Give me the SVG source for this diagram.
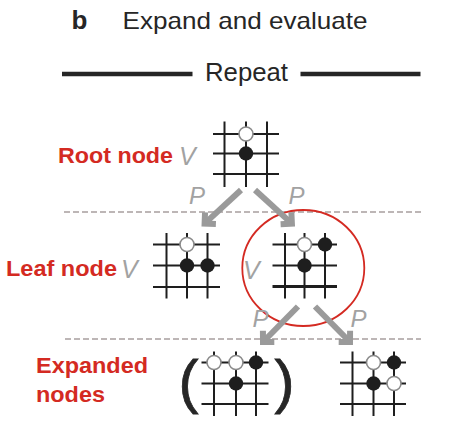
<svg xmlns="http://www.w3.org/2000/svg" width="459" height="433" viewBox="0 0 459 433">
<style>
.title{font-family:"Liberation Sans",Arial,sans-serif;fill:#262626}
.red{font-family:"Liberation Sans",Arial,sans-serif;font-weight:bold;font-size:22px;fill:#d42a22}
.gl{font-family:"Liberation Sans",Arial,sans-serif;font-style:italic;font-size:24px;fill:#a2a2a2}
.gv{font-size:25px}
.grid{stroke:#1e1e1e;stroke-width:2;fill:none}
.bs{fill:#1e1e1e}
.ws{fill:#ffffff;stroke:#8a8a8a;stroke-width:1.6}
.dash{stroke:#bdb6b6;stroke-width:2;stroke-dasharray:6 3;fill:none}
.arr{stroke:#9a9a9a;stroke-width:6;fill:none;marker-end:url(#ah)}
.paren{font-family:"Liberation Sans",Arial,sans-serif;font-size:60px;fill:#262626;stroke:#262626;stroke-width:0.8}
</style>
<defs>
<marker id="ah" markerUnits="userSpaceOnUse" viewBox="-12 -12 24 24" markerWidth="24" markerHeight="24" refX="0" refY="0" orient="auto" overflow="visible">
<path d="M-8,-8 L0,0 L-8,8" fill="none" stroke="#9a9a9a" stroke-width="6" stroke-linejoin="miter"/>
</marker>
</defs>
<rect width="459" height="433" fill="#ffffff"/>

<g id="header">
<text class="title" x="71.5" y="28.5" font-size="26" font-weight="bold">b</text>
<text class="title" x="122.5" y="28.5" font-size="24" textLength="245" lengthAdjust="spacingAndGlyphs">Expand and evaluate</text>
<line x1="62" y1="74" x2="192.5" y2="74" stroke="#262626" stroke-width="4.5"/>
<line x1="300.5" y1="74" x2="420.5" y2="74" stroke="#262626" stroke-width="4.5"/>
<text class="title" x="205" y="81" font-size="26" textLength="83" lengthAdjust="spacingAndGlyphs">Repeat</text>
</g>

<g id="separators">
<line class="dash" x1="64" y1="212" x2="421" y2="212"/>
<line class="dash" x1="65" y1="339" x2="421" y2="339"/>
</g>

<g id="labels">
<text class="red" x="58" y="163.3" textLength="115" lengthAdjust="spacingAndGlyphs">Root node</text>
<text class="red" x="6" y="276" textLength="111" lengthAdjust="spacingAndGlyphs">Leaf node</text>
<text class="red" x="36" y="373.3" textLength="112" lengthAdjust="spacingAndGlyphs">Expanded</text>
<text class="red" x="36" y="401.7" textLength="69" lengthAdjust="spacingAndGlyphs">nodes</text>
</g>

<g id="root-node">
<path class="grid" d="M224.5,121.5V187 M246,121.5V187 M267,121.5V187 M213,134H279 M213,153.5H279 M213,174H279"/>
<circle class="ws" cx="246" cy="134" r="7"/>
<circle class="bs" cx="246" cy="153.5" r="7.2"/>
<text class="gl gv" x="179" y="165">V</text>
</g>

<g id="leaf-node-1">
<path class="grid" d="M166.5,233V298.5 M187,233V298.5 M207.5,233V298.5 M153,244.5H220 M153,265.5H220 M153,287H220"/>
<circle class="ws" cx="187" cy="244.5" r="7"/>
<circle class="bs" cx="187" cy="265.5" r="7.2"/>
<circle class="bs" cx="207.5" cy="265.5" r="7.2"/>
<text class="gl gv" x="121" y="277.5">V</text>
</g>

<g id="leaf-node-2">
<ellipse cx="303.3" cy="268" rx="61" ry="58" fill="none" stroke="#d42a22" stroke-width="1.8"/>
<path class="grid" d="M285,233V298.5 M304.5,233V298.5 M325,233V298.5 M272.5,244.5H337 M272.5,265.5H337"/>
<line x1="272.5" y1="286.5" x2="337" y2="286.5" stroke="#1e1e1e" stroke-width="3"/>
<circle class="ws" cx="304.5" cy="244.5" r="7"/>
<circle class="bs" cx="325" cy="244.5" r="7.2"/>
<circle class="bs" cx="304.5" cy="265.5" r="7.2"/>
<text class="gl gv" x="243" y="279">V</text>
</g>

<g id="expanded-node-1">
<text class="paren" x="178.5" y="401.7">(</text>
<path class="grid" d="M214,351.5V416 M236,351.5V416 M256,351.5V416 M201.5,362.5H268.5 M201.5,383.5H268.5 M201.5,404H268.5"/>
<circle class="ws" cx="214" cy="362.5" r="7"/>
<circle class="ws" cx="236" cy="362.5" r="7"/>
<circle class="bs" cx="256" cy="362.5" r="7.2"/>
<circle class="bs" cx="236" cy="383.5" r="7.2"/>
<text class="paren" x="274.5" y="401.7">)</text>
</g>

<g id="expanded-node-2">
<path class="grid" d="M352.5,351.5V416 M373.5,351.5V416 M394,351.5V416 M340,362.5H406 M340,383.5H406 M340,404H406"/>
<circle class="ws" cx="373.5" cy="362.5" r="7"/>
<circle class="bs" cx="394" cy="362.5" r="7.2"/>
<circle class="bs" cx="373.5" cy="383.5" r="7.2"/>
<circle class="ws" cx="394" cy="383.5" r="7"/>
</g>

<g id="connectors">
<line class="arr" x1="241" y1="190" x2="204.6" y2="223.6"/>
<line class="arr" x1="255" y1="190" x2="291.9" y2="223.6"/>
<line class="arr" x1="298" y1="306.5" x2="263" y2="342"/>
<line class="arr" x1="315" y1="306.5" x2="350" y2="342"/>
<text class="gl" x="189" y="203.5">P</text>
<text class="gl" x="288.5" y="203.5">P</text>
<text class="gl" x="252.5" y="327">P</text>
<text class="gl" x="350.5" y="327">P</text>
</g>
</svg>
